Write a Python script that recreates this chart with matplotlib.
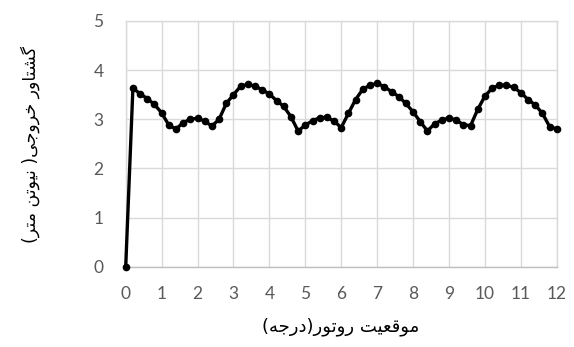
import numpy as np
import matplotlib
matplotlib.use("Agg")
import matplotlib.pyplot as plt

# rotor position (deg) and output torque (N.m)
position = [0.0, 0.2, 0.4, 0.6, 0.8, 1.0, 1.2, 1.4, 1.6, 1.8,
            2.0, 2.2, 2.4, 2.6, 2.8, 3.0, 3.2, 3.4, 3.6, 3.8,
            4.0, 4.2, 4.4, 4.6, 4.8, 5.0, 5.2, 5.4, 5.6, 5.8,
            6.0, 6.2, 6.4, 6.6, 6.8, 7.0, 7.2, 7.4, 7.6, 7.8,
            8.0, 8.2, 8.4, 8.6, 8.8, 9.0, 9.2, 9.4, 9.6, 9.8,
            10.0, 10.2, 10.4, 10.6, 10.8, 11.0, 11.2, 11.4, 11.6, 11.8,
            12.0]
torque = [0.00, 3.63, 3.52, 3.42, 3.30, 3.13, 2.88, 2.80, 2.93, 3.00,
          3.02, 2.96, 2.86, 3.00, 3.32, 3.50, 3.67, 3.71, 3.67, 3.60,
          3.51, 3.38, 3.26, 3.05, 2.76, 2.88, 2.97, 3.03, 3.04, 2.96,
          2.83, 3.12, 3.40, 3.61, 3.69, 3.73, 3.66, 3.56, 3.46, 3.32,
          3.15, 2.95, 2.76, 2.91, 2.98, 3.03, 2.98, 2.89, 2.87, 3.20,
          3.47, 3.63, 3.69, 3.69, 3.65, 3.54, 3.40, 3.29, 3.12, 2.85,
          2.80]
x_ticks = list(range(0, 13))
y_ticks = list(range(0, 6))

x_title = "موقعیت روتور(درجه)"
y_title = "گشتاور خروجی( نیوتن متر)"

# Arabic presentation forms: (isolated, final, initial, medial); None = right-joining only
FORMS = {
    "ا": ("\uFE8D", "\uFE8E", None, None),
    "ت": ("\uFE95", "\uFE96", "\uFE97", "\uFE98"),
    "ج": ("\uFE9D", "\uFE9E", "\uFE9F", "\uFEA0"),
    "خ": ("\uFEA5", "\uFEA6", "\uFEA7", "\uFEA8"),
    "د": ("\uFEA9", "\uFEAA", None, None),
    "ر": ("\uFEAD", "\uFEAE", None, None),
    "ش": ("\uFEB5", "\uFEB6", "\uFEB7", "\uFEB8"),
    "ع": ("\uFEC9", "\uFECA", "\uFECB", "\uFECC"),
    "ق": ("\uFED5", "\uFED6", "\uFED7", "\uFED8"),
    "م": ("\uFEE1", "\uFEE2", "\uFEE3", "\uFEE4"),
    "ن": ("\uFEE5", "\uFEE6", "\uFEE7", "\uFEE8"),
    "ه": ("\uFEE9", "\uFEEA", "\uFEEB", "\uFEEC"),
    "و": ("\uFEED", "\uFEEE", None, None),
    "ی": ("\uFBFC", "\uFBFD", "\uFBFE", "\uFBFF"),
    "گ": ("\uFB92", "\uFB93", "\uFB94", "\uFB95"),
}
MIRROR = {"(": ")", ")": "("}


def shape_rtl(text):
    out = []
    for i, ch in enumerate(text):
        if ch not in FORMS:
            out.append(MIRROR.get(ch, ch))
            continue
        prev = text[i - 1] if i > 0 else ""
        nxt = text[i + 1] if i + 1 < len(text) else ""
        join_prev = prev in FORMS and FORMS[prev][2] is not None
        join_next = FORMS[ch][2] is not None and nxt in FORMS
        iso, fin, ini, med = FORMS[ch]
        if join_prev and join_next:
            out.append(med)
        elif join_prev:
            out.append(fin)
        elif join_next:
            out.append(ini)
        else:
            out.append(iso)
    return "".join(reversed(out))


plt.rcParams["font.family"] = ["DejaVu Sans"]

fig = plt.figure(figsize=(5.74, 3.47), dpi=100)
ax = fig.add_axes([0.219, 0.231, 0.751, 0.709])

ax.plot(position, torque, color="black", lw=2.4, marker="o", ms=4.5,
        zorder=3, clip_on=False)

ax.set_xlim(0, 12)
ax.set_ylim(0, 5)
ax.set_xticks(x_ticks)
ax.set_yticks(y_ticks)
ax.grid(True, color="#d9d9d9", lw=1.0)
ax.set_axisbelow(True)
for s in ax.spines.values():
    s.set_color("#d9d9d9")
    s.set_linewidth(1.0)
ax.spines["bottom"].set_color("#bfbfbf")
ax.tick_params(length=0, labelsize=12.5, labelcolor="#595959")
ax.tick_params(axis="x", pad=14)
ax.tick_params(axis="y", pad=16)
for lbl in ax.get_xticklabels() + ax.get_yticklabels():
    lbl.set_family("Lato")

fig.text(0.593, 0.058, shape_rtl(x_title), ha="center", va="center", fontsize=13)
fig.text(0.052, 0.585, shape_rtl(y_title), ha="center", va="center",
         fontsize=12.5, rotation=90)

fig.savefig("out.png", dpi=100)
